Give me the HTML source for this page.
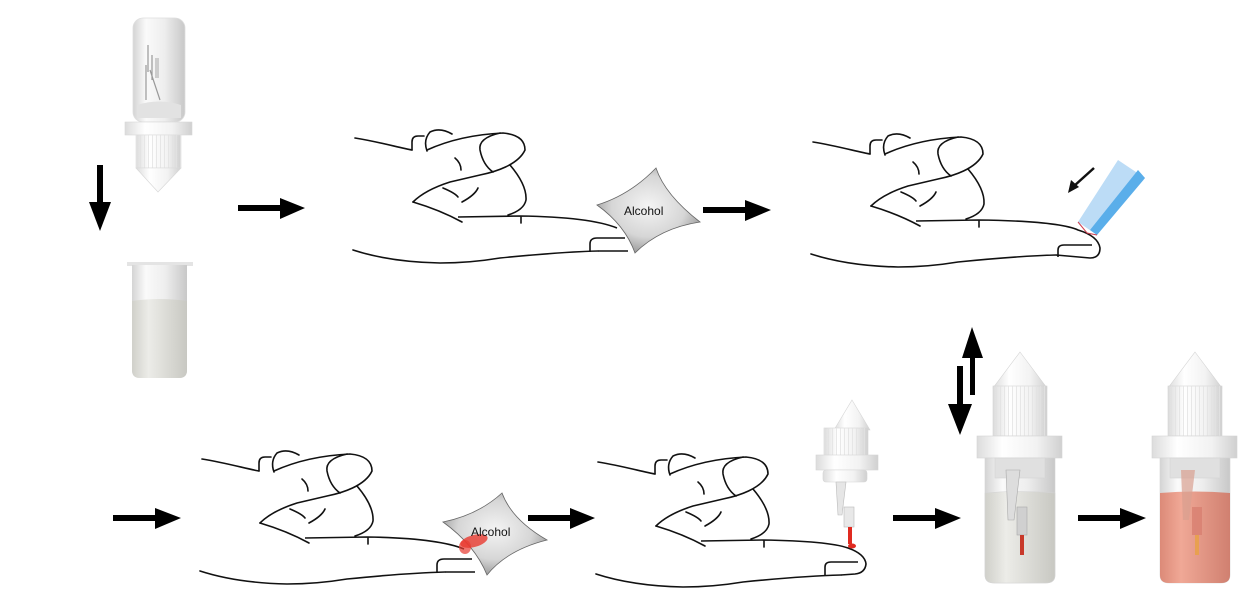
<!DOCTYPE html>
<html><head><meta charset="utf-8"><style>
html,body{margin:0;padding:0;background:#fff;}
svg{display:block}
</style></head><body>
<svg width="1260" height="614" viewBox="0 0 1260 614" xmlns="http://www.w3.org/2000/svg">
<defs>
<linearGradient id="tube" x1="0" x2="1" y1="0" y2="0">
<stop offset="0" stop-color="#d4d4d4"/><stop offset="0.25" stop-color="#fafafa"/><stop offset="0.6" stop-color="#eeeeee"/><stop offset="1" stop-color="#c8c8c8"/></linearGradient>
<linearGradient id="liq" x1="0" x2="1"><stop offset="0" stop-color="#d0d0ca"/><stop offset="0.3" stop-color="#ecece8"/><stop offset="1" stop-color="#c8c8c2"/></linearGradient>
<linearGradient id="pink" x1="0" x2="1"><stop offset="0" stop-color="#dc8a78"/><stop offset="0.3" stop-color="#f0a896"/><stop offset="1" stop-color="#d08070"/></linearGradient>
<linearGradient id="cap" x1="0" x2="1"><stop offset="0" stop-color="#dcdcdc"/><stop offset="0.3" stop-color="#ffffff"/><stop offset="0.7" stop-color="#f2f2f2"/><stop offset="1" stop-color="#d0d0d0"/></linearGradient>
<radialGradient id="pad" cx="0.5" cy="0.45" r="0.6"><stop offset="0" stop-color="#f4f4f4"/><stop offset="0.6" stop-color="#d6d6d6"/><stop offset="1" stop-color="#8f8f8f"/></radialGradient>
<pattern id="knurl" width="4" height="10" patternUnits="userSpaceOnUse"><rect width="4" height="10" fill="none"/><line x1="0.5" y1="0" x2="0.5" y2="10" stroke="#e2e2e2" stroke-width="0.8"/></pattern>
<g id="handbase" fill="none" stroke="#111" stroke-width="1.6" stroke-linecap="round">
<path d="M355,138 C380,142 400,148 412,150"/>
<path d="M412,150 L412,142 Q412,136 418,136 L424,136"/>
<path d="M427,151 Q423,140 430,132 Q440,127 452,134"/>
<path d="M427,150 Q460,135 503,133 Q525,135 525,150 C518,165 495,172 480,175 L450,182 Q425,190 413,202"/>
<path d="M500,133 Q478,138 480,150 Q483,165 493,172"/>
<path d="M413,202 Q440,210 462,222"/>
<path d="M455,158 Q461,163 461,170"/>
<path d="M443,188 Q455,193 458,197"/>
<path d="M462,202 Q475,195 478,188"/>
<path d="M510,165 Q527,185 526,200 Q524,210 508,215"/>
<path d="M521,217 L521,223"/>
<path d="M353,250 Q390,262 440,263 Q470,263 500,258 Q560,252 598,251"/>
</g>
</defs>

<!-- hand 1 -->
<use href="#handbase"/>
<g fill="none" stroke="#111" stroke-width="1.6">
<path d="M458,217 L520,216 Q590,217 617,228"/>
<path d="M598,251 L628,251"/>
<path d="M590,252 L590,244 Q590,238 597,238 L625,238"/>
</g>
<path d="M656,168 Q665,195 700,222 Q660,228 635,253 Q625,225 597,205 Q630,195 656,168 Z" fill="url(#pad)" stroke="#666" stroke-width="0.8"/>
<text x="624" y="215" font-family="Liberation Sans, sans-serif" font-size="12" fill="#111">Alcohol</text>

<!-- hand 2 -->
<g transform="translate(458,4)">
<use href="#handbase"/>
<g fill="none" stroke="#111" stroke-width="1.6">
<path d="M458,217 L520,216 Q600,217 620,226 Q640,232 642,244 Q642,254 632,254 L598,251"/>
<path d="M600,253 L600,246 Q600,241 606,241 L634,241"/>
</g></g>
<path d="M1118,160 L1145,178 L1097,235 L1078,222 Z" fill="#bcdcf6"/>
<path d="M1138,170 L1145,178 L1097,235 L1090,230 Z" fill="#5aaeea"/>
<path d="M1078,222 L1087,233 L1097,235" fill="none" stroke="#d04050" stroke-width="1"/>
<path d="M1094,168 L1074,186" stroke="#111" stroke-width="2.5"/>
<path d="M1068,193 L1071,180 L1079,187 Z" fill="#111"/>

<!-- hand 3 -->
<g transform="translate(-153,321)">
<use href="#handbase"/>
<g fill="none" stroke="#111" stroke-width="1.6">
<path d="M458,217 L520,216 Q590,217 617,228"/>
<path d="M598,251 L628,251"/>
<path d="M590,252 L590,244 Q590,238 597,238 L625,238"/>
</g></g>
<path d="M502,493 Q512,520 547,540 Q507,550 487,575 Q475,545 443,522 Q478,515 502,493 Z" fill="url(#pad)" stroke="#666" stroke-width="0.8"/>
<ellipse cx="474" cy="541" rx="14" ry="6" fill="#e83a30" opacity="0.8" transform="rotate(-15 474 541)"/>
<ellipse cx="465" cy="547" rx="6" ry="7" fill="#e83a30" opacity="0.7"/>
<text x="471" y="536" font-family="Liberation Sans, sans-serif" font-size="12" fill="#111">Alcohol</text>

<!-- hand 4 -->
<g transform="translate(243,324)">
<use href="#handbase"/>
<g fill="none" stroke="#111" stroke-width="1.6">
<path d="M458,217 L520,216 Q585,217 605,224 Q622,230 623,240 Q622,249 612,250 L598,251"/>
<path d="M582,251 L582,243 Q582,238 588,238 L615,238"/>
</g></g>
<!-- small device -->
<g stroke="#d6d6d6" stroke-width="0.6">
<path d="M852,400 L870,430 L834,430 Z" fill="url(#cap)"/>
<rect x="824" y="428" width="44" height="28" fill="url(#cap)"/>
<rect x="824" y="428" width="44" height="28" fill="url(#knurl)" stroke="none"/>
<rect x="816" y="455" width="62" height="15" fill="url(#cap)"/>
<rect x="823" y="470" width="44" height="12" rx="3" fill="url(#cap)"/>
<path d="M836,482 L846,482 L842,515 L838,515 Z" fill="#e6e6e6" stroke="#bbb"/>
<rect x="844" y="507" width="10" height="20" fill="#e8e8e8" stroke="#bbb"/>
</g>
<rect x="848" y="527" width="4" height="17" fill="#e02a20"/>
<ellipse cx="852" cy="546" rx="4" ry="2.5" fill="#e02a20"/>

<!-- top left tube -->
<rect x="133" y="18" width="52" height="104" rx="10" fill="url(#tube)" stroke="#dedede" stroke-width="0.8"/>
<path d="M137,105 Q159,98 181,105 L181,118 L137,118 Z" fill="#e2e2e2"/>
<path d="M148,45 L148,72 M152,55 L152,80 M150,70 L160,100 M146,65 L146,100" stroke="#999" stroke-width="1.2" fill="none"/>
<rect x="155" y="58" width="4" height="20" fill="#ccc"/>
<rect x="125" y="122" width="67" height="13" fill="url(#cap)" stroke="#d8d8d8" stroke-width="0.6"/>
<rect x="136" y="135" width="45" height="33" fill="url(#cap)" stroke="#dcdcdc" stroke-width="0.6"/>
<rect x="136" y="135" width="45" height="33" fill="url(#knurl)"/>
<path d="M136,168 L181,168 L158,192 Z" fill="url(#cap)" stroke="#d8d8d8" stroke-width="0.6"/>
<!-- bottom left tube -->
<rect x="127" y="262" width="66" height="4" fill="#e4e4e4"/>
<path d="M132,265 L187,265 L187,370 Q187,378 179,378 L140,378 Q132,378 132,370 Z" fill="url(#tube)"/>
<path d="M132,301 Q160,297 187,301 L187,370 Q187,378 179,378 L140,378 Q132,378 132,370 Z" fill="url(#liq)"/>

<!-- vial 3 -->
<g stroke="#d4d4d4" stroke-width="0.6">
<path d="M1020,352 L1047,388 L993,388 Z" fill="url(#cap)"/>
<rect x="993" y="386" width="54" height="50" fill="url(#cap)"/>
<rect x="993" y="386" width="54" height="50" fill="url(#knurl)" stroke="none"/>
<rect x="977" y="436" width="85" height="22" fill="url(#cap)"/>
<path d="M985,458 L1055,458 L1055,575 Q1055,583 1046,583 L994,583 Q985,583 985,575 Z" fill="url(#tube)"/>
<path d="M985,493 Q1020,490 1055,493 L1055,575 Q1055,583 1046,583 L994,583 Q985,583 985,575 Z" fill="url(#liq)"/>
<rect x="995" y="458" width="50" height="20" fill="#e0e0e0"/>
<path d="M1006,470 L1020,470 L1014,520 L1008,520 Z" fill="#ddd" stroke="#aaa"/>
<rect x="1017" y="507" width="10" height="28" fill="#d0d0d0" stroke="#aaa"/>
</g>
<rect x="1020" y="535" width="4" height="20" fill="#c8392a"/>
<!-- vial 4 -->
<g transform="translate(175,0)" stroke="#d4d4d4" stroke-width="0.6">
<path d="M1020,352 L1047,388 L993,388 Z" fill="url(#cap)"/>
<rect x="993" y="386" width="54" height="50" fill="url(#cap)"/>
<rect x="993" y="386" width="54" height="50" fill="url(#knurl)" stroke="none"/>
<rect x="977" y="436" width="85" height="22" fill="url(#cap)"/>
<path d="M985,458 L1055,458 L1055,575 Q1055,583 1046,583 L994,583 Q985,583 985,575 Z" fill="url(#tube)"/>
<path d="M985,493 Q1020,490 1055,493 L1055,575 Q1055,583 1046,583 L994,583 Q985,583 985,575 Z" fill="url(#pink)" stroke="none"/>
<rect x="995" y="458" width="50" height="20" fill="#e0e0e0"/>
<path d="M1006,470 L1020,470 L1014,520 L1008,520 Z" fill="#d9a090" opacity="0.7" stroke="none"/>
<rect x="1017" y="507" width="10" height="28" fill="#d88070" opacity="0.8" stroke="none"/>
<rect x="1020" y="535" width="4" height="20" fill="#e8a050" stroke="none"/>
</g>

<!-- arrows -->
<g fill="#000">
<rect x="238" y="205" width="45" height="6"/><path d="M280,198 L305,208 L280,219 Z"/>
<rect x="703" y="207" width="45" height="6"/><path d="M745,200 L771,210 L745,221 Z"/>
<rect x="113" y="515" width="45" height="6"/><path d="M155,508 L181,518 L155,529 Z"/>
<rect x="528" y="515" width="45" height="6"/><path d="M570,508 L595,518 L570,529 Z"/>
<rect x="893" y="515" width="45" height="6"/><path d="M935,508 L961,518 L935,529 Z"/>
<rect x="1078" y="515" width="45" height="6"/><path d="M1120,508 L1146,518 L1120,529 Z"/>
<rect x="97" y="165" width="6" height="42"/><path d="M89,202 L111,202 L100,231 Z"/>
<rect x="970" y="352" width="5" height="43"/><path d="M962,358 L983,358 L972,327 Z"/>
<rect x="957" y="366" width="6" height="42"/><path d="M948,404 L972,404 L960,435 Z"/>
</g>
</svg>
</body></html>
